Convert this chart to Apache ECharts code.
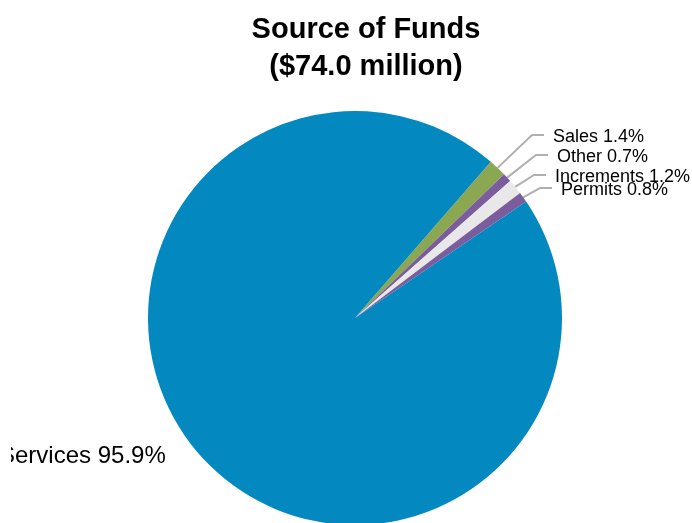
<!DOCTYPE html>
<html>
<head>
<meta charset="utf-8">
<script src="https://cdn.jsdelivr.net/npm/echarts@6/dist/echarts.min.js"></script>
<style>
  html, body { margin: 0; padding: 0; background: #ffffff; }
  #chart { width: 692px; height: 523px; }
</style>
</head>
<body>
<div id="chart"></div>
<script>
// Revenue sources, in percent of the $74.0 million total
const categories = ['Sales', 'Other', 'Increments', 'Permits', 'Services'];
const shares = [1.4, 0.7, 1.2, 0.8, 95.9];
const sliceColors = ['#8ba752', '#7b5c9c', '#e8e8e8', '#7b5c9c', '#0389c0'];

// Where each label sits (left edge x, middle y); Services has no leader line
const labelSpots = [
  { x: 553, y: 137 },
  { x: 557, y: 157 },
  { x: 555, y: 177 },
  { x: 561, y: 190 },
  { x: -1, y: 456 }
];

const FONT = 'Liberation Sans, Arial, sans-serif';

const chart = echarts.init(document.getElementById('chart'), null, { renderer: 'canvas' });

chart.setOption({
  animation: false,
  title: {
    text: 'Source of Funds\n($74.0 million)',
    left: 361,
    top: 6,
    textAlign: 'center',
    textStyle: {
      fontFamily: FONT,
      fontSize: 29,
      fontWeight: 'bold',
      color: '#000000',
      lineHeight: 37
    }
  },
  // the page edge trims the first letter of the Services label
  graphic: [{
    type: 'rect',
    left: 0,
    top: 436,
    z: 100,
    shape: { width: 11, height: 40 },
    style: { fill: '#ffffff' },
    silent: true
  }],
  series: [{
    type: 'pie',
    center: [355, 318],
    radius: 207,
    startAngle: 49,
    clockwise: true,
    avoidLabelOverlap: false,
    data: categories.map((name, i) => ({
      name: name,
      value: shares[i],
      itemStyle: { color: sliceColors[i] },
      label: { fontSize: i === 4 ? 24 : 18 }
    })),
    label: {
      show: true,
      position: 'outside',
      formatter: p => p.name + ' ' + p.value.toFixed(1) + '%',
      fontFamily: FONT,
      color: '#000000'
    },
    labelLine: {
      show: true,
      lineStyle: { color: '#b0b0b0', width: 2 }
    },
    labelLayout: function (params) {
      const spot = labelSpots[params.dataIndex];
      const out = { x: spot.x, y: spot.y, align: 'left', verticalAlign: 'middle' };
      if (params.dataIndex === 4) {
        out.labelLinePoints = [[0, 0], [0, 0], [0, 0]];
        return out;
      }
      const start = params.labelLinePoints[0];
      out.labelLinePoints = [
        [start[0], start[1]],
        [spot.x - 21, spot.y - 2],
        [spot.x - 9, spot.y - 2]
      ];
      return out;
    },
    emphasis: { disabled: true }
  }]
});
</script>
</body>
</html>
